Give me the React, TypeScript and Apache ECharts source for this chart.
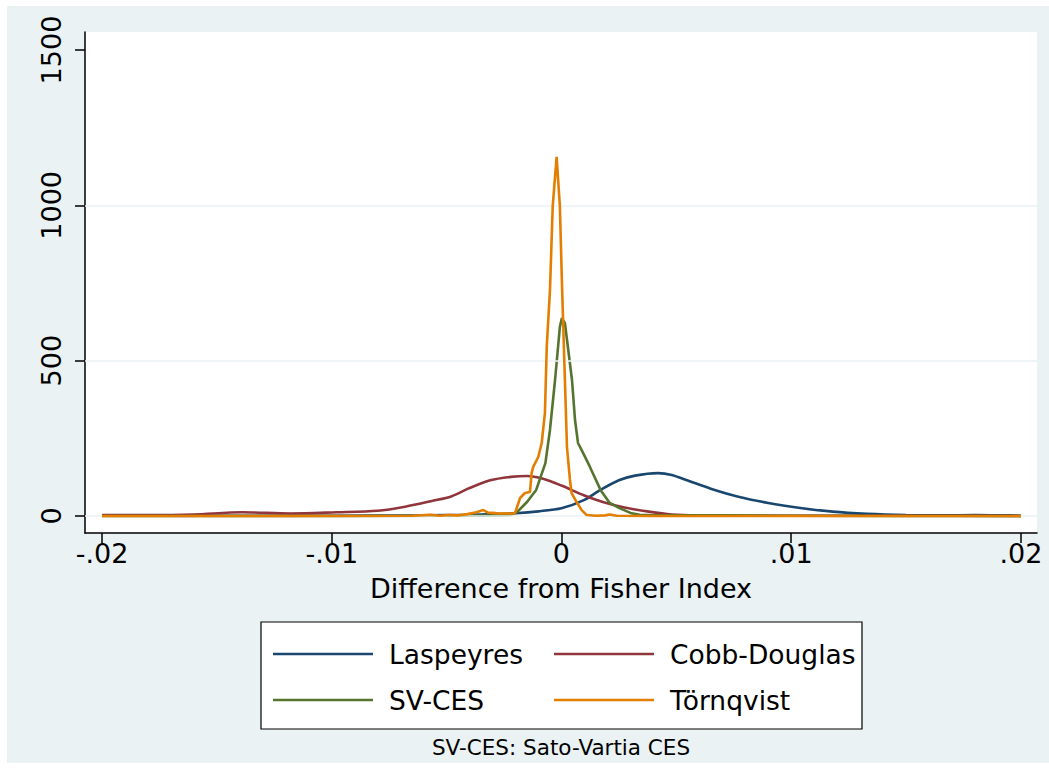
import React, { useEffect, useRef } from "react";
import * as echarts from "echarts";

const xTickValues = [-0.02, -0.01, 0, 0.01, 0.02];
const xTickLabels = ["-.02", "-.01", "0", ".01", ".02"];
const yTickValues = [0, 500, 1000, 1500];
const yGridValues = [0, 500, 1000];

const seriesNames = ["Laspeyres", "Cobb-Douglas", "SV-CES", "Törnqvist"];
const seriesColors = ["#1a476f", "#90353b", "#55752f", "#e37e00"];

const laspX = [-0.02, -0.015, -0.01, -0.006, -0.004, -0.003, -0.002, -0.001, 0, 0.001, 0.0017, 0.0025, 0.0032, 0.0042, 0.0048, 0.0055, 0.0065, 0.0077, 0.009, 0.0104, 0.0118, 0.0133, 0.015, 0.0165, 0.018, 0.0195, 0.02];
const laspY = [1, 1, 1, 2, 4, 6, 9, 15, 25, 52, 84, 115, 130, 138, 132, 114, 88, 62, 42, 26, 14, 7, 3, 2, 3, 2, 1];

const cobbX = [-0.02, -0.018, -0.016, -0.0139, -0.0118, -0.0098, -0.008, -0.0068, -0.0056, -0.0048, -0.004, -0.0031, -0.0022, -0.0015, -0.0008, 0, 0.001, 0.0018, 0.0027, 0.0038, 0.0048, 0.006, 0.008, 0.01, 0.015, 0.02];
const cobbY = [3, 3, 5, 12, 8, 12, 17, 30, 49, 63, 90, 115, 126, 129, 120, 98, 66, 45, 28, 14, 5, 2, 1, 1, 1, 0];

const svcesX = [-0.02, -0.01, -0.005, -0.003, -0.0022, -0.0019, -0.0015, -0.0011, -0.0007, -0.0005, -0.00028, -0.00007, 0.00002, 0.00015, 0.00028, 0.00046, 0.00059, 0.00072, 0.00094, 0.00124, 0.0017, 0.0021, 0.0025, 0.003, 0.0034, 0.004, 0.007, 0.01, 0.015, 0.02];
const svcesY = [0, 0, 1, 2, 3, 15, 45, 84, 170, 277, 437, 608, 637, 621, 544, 437, 309, 235, 203, 158, 84, 42, 26, 10, 4, 2, 2, 1, 0, 0];

const tornX = [-0.02, -0.012, -0.0065, -0.0057, -0.0053, -0.0049, -0.0045, -0.0041, -0.0037, -0.0034, -0.0032, -0.003, -0.0027, -0.0024, -0.00215, -0.00202, -0.0018, -0.00159, -0.00137, -0.0013, -0.00123, -0.00101, -0.00086, -0.00072, -0.00064, -0.0005, -0.00038, -0.00021, -0.00007, 0.00003, 0.00015, 0.00024, 0.00037, 0.00044, 0.00066, 0.00088, 0.0011, 0.0015, 0.0019, 0.0021, 0.0024, 0.004, 0.01, 0.02];
const tornY = [0, 0, 1, 4, 1, 3, 2, 6, 12, 19, 11, 10, 8, 9, 7, 10, 58, 74, 77, 138, 158, 190, 235, 331, 545, 727, 998, 1156, 998, 727, 437, 222, 116, 74, 45, 19, 3, 1, 2, 5, 1, 0, 0, 0];

const xTitle = "Difference from Fisher Index";
const noteText = "SV-CES: Sato-Vartia CES";

const FONT = "DejaVu Sans";

function pairs(xs: number[], ys: number[]) {
  return xs.map((x, i) => [x, ys[i]]);
}

export default function App() {
  const ref = useRef<HTMLDivElement>(null);
  useEffect(() => {
    if (!ref.current) return;
    const chart = echarts.init(ref.current, null, { renderer: "svg" });
    const allData = [pairs(laspX, laspY), pairs(cobbX, cobbY), pairs(svcesX, svcesY), pairs(tornX, tornY)];
    const smooths = [0.25, 0.3, false, false];
    const series: any[] = [
      {
        name: "_grid",
        type: "line",
        data: [],
        z: 1,
        silent: true,
        markLine: {
          silent: true,
          symbol: "none",
          label: { show: false },
          lineStyle: { color: "#eaf2f3", width: 1.5, type: "solid" },
          data: yGridValues.map((v) => ({ yAxis: v })),
        },
      },
      ...seriesNames.map((name, i) => ({
        name,
        type: "line",
        data: allData[i],
        showSymbol: false,
        symbol: "none",
        smooth: smooths[i],
        clip: false,
        z: 2 + i,
        lineStyle: { color: seriesColors[i], width: 2.6 },
        itemStyle: { color: seriesColors[i] },
      })),
    ];
    const legLeft = [266, 547, 266, 547];
    const legCenter = [648, 648, 694, 694];
    const legends = seriesNames.map((name, i) => ({
      data: [name],
      orient: "horizontal",
      left: legLeft[i],
      top: legCenter[i] - 16,
      padding: 0,
      icon: "rect",
      itemWidth: 100,
      itemHeight: 2.5,
      z: 5,
      selectedMode: false,
      textStyle: {
        fontSize: 26.5,
        fontFamily: FONT,
        color: "#000",
        lineHeight: 32,
        padding: [0, 0, 0, 11],
      },
    }));
    chart.setOption({
      animation: false,
      backgroundColor: "#eaf2f3",
      textStyle: { fontFamily: FONT },
      grid: {
        left: 78,
        top: 26,
        width: 952,
        height: 501,
        show: true,
        backgroundColor: "#ffffff",
        borderWidth: 0,
        containLabel: false,
      },
      xAxis: {
        type: "value",
        min: -0.02074,
        max: 0.0207,
        axisLine: { show: true, onZero: false, lineStyle: { color: "#000", width: 1.5 } },
        axisTick: { show: true, length: 10, inside: false, customValues: xTickValues, lineStyle: { color: "#000", width: 1.5 } },
        axisLabel: {
          customValues: xTickValues,
          formatter: (v: number) => {
            const idx = xTickValues.findIndex((t) => Math.abs(t - v) < 1e-9);
            return idx >= 0 ? xTickLabels[idx] : "";
          },
          fontSize: 27,
          color: "#000",
          fontFamily: FONT,
          margin: 7,
        },
        splitLine: { show: false },
        name: xTitle,
        nameLocation: "middle",
        nameGap: 42,
        nameTextStyle: { fontSize: 27, color: "#000", fontFamily: FONT },
      },
      yAxis: {
        type: "value",
        min: -54.7,
        max: 1558,
        axisLine: { show: true, onZero: false, lineStyle: { color: "#000", width: 1.5 } },
        axisTick: { show: true, length: 10, inside: false, customValues: yTickValues, lineStyle: { color: "#000", width: 1.5 } },
        axisLabel: {
          customValues: yTickValues,
          formatter: (v: number) => String(Math.round(v)),
          rotate: 90,
          fontSize: 27,
          color: "#000",
          fontFamily: FONT,
          margin: 20,
        },
        splitLine: { show: false },
      },
      legend: legends,
      graphic: [
        {
          type: "rect",
          z: 1,
          shape: { x: 254, y: 616, width: 601, height: 107 },
          style: { fill: "#ffffff", stroke: "#000", lineWidth: 1.2 },
        },
        {
          type: "text",
          z: 1,
          x: 554,
          y: 741,
          style: {
            text: noteText,
            fontSize: 21.5,
            fontFamily: FONT,
            fill: "#000",
            textAlign: "center",
            textVerticalAlign: "middle",
          },
        },
      ],
      series,
    });
    return () => chart.dispose();
  }, []);
  return (
    <div
      ref={ref}
      style={{ position: "absolute", left: 7, top: 6, width: 1042, height: 757 }}
    />
  );
}
